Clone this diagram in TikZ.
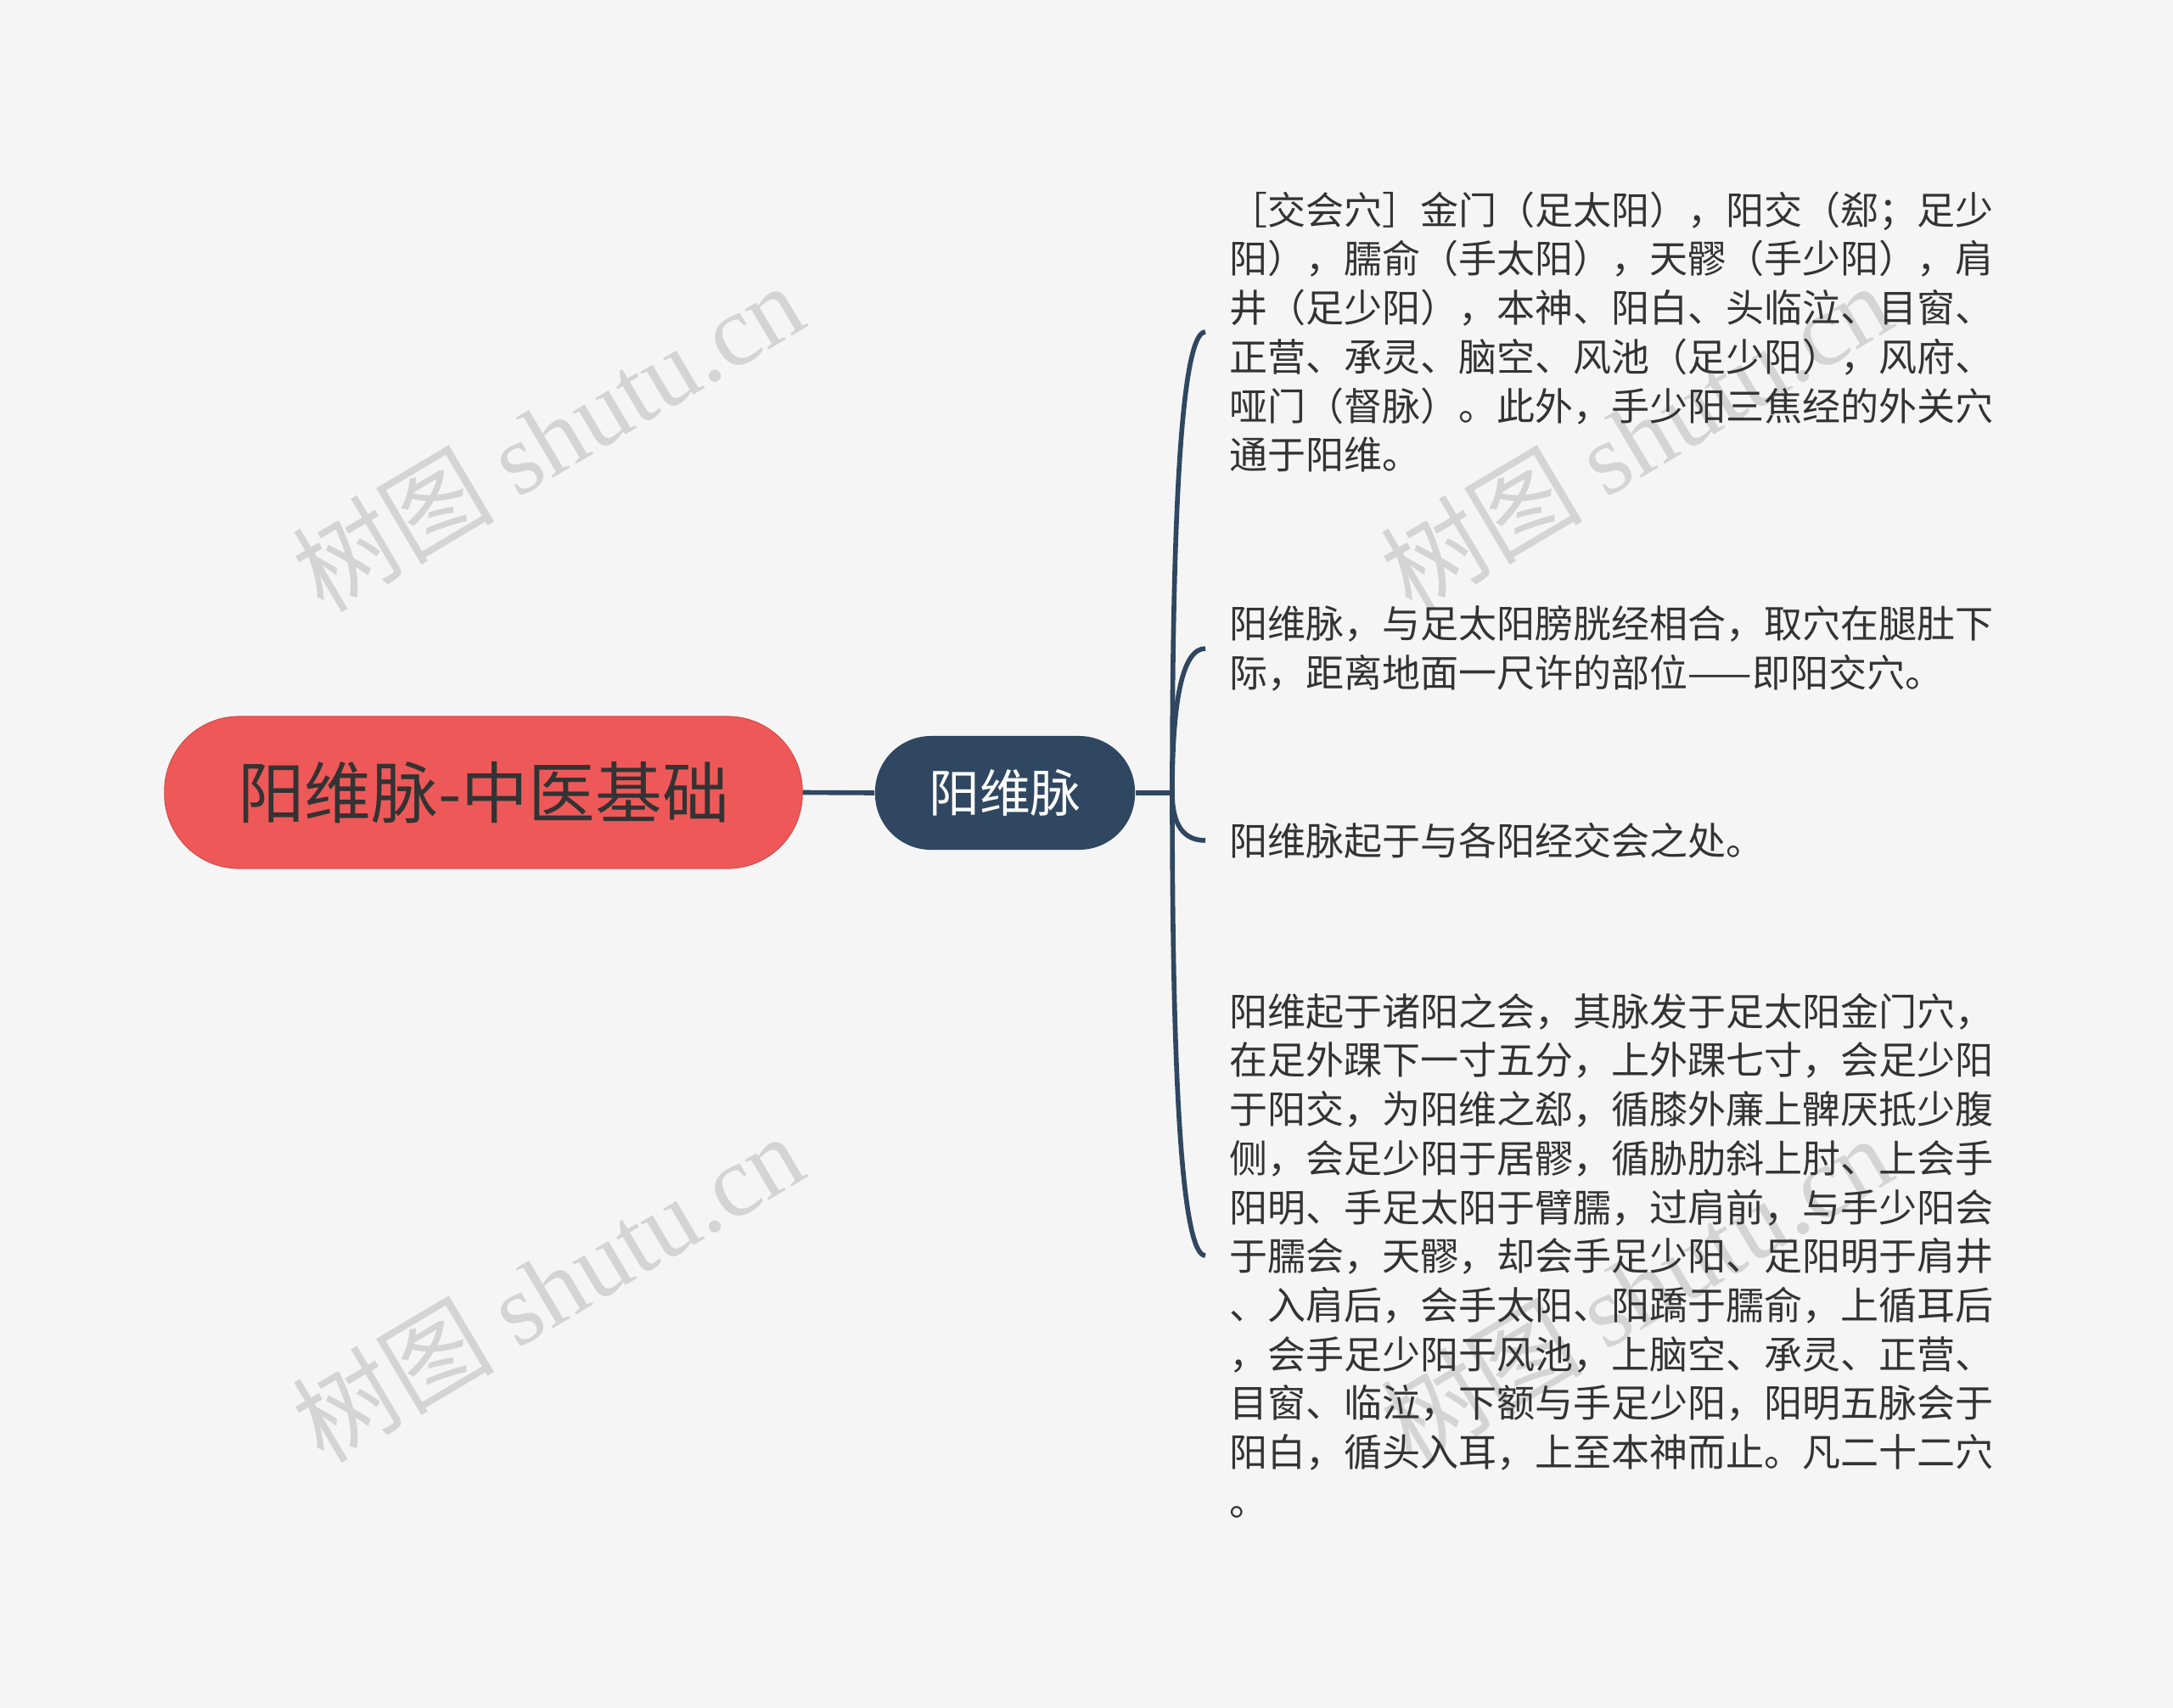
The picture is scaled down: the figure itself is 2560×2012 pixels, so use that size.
\documentclass[tikz,border=0pt]{standalone}
\usepackage{fontspec}
\setmainfont{Noto Sans CJK SC}
\newfontfamily\wmfont{Liberation Serif}
\usetikzlibrary{calc}
\definecolor{bgc}{HTML}{F5F5F5}
\definecolor{rootc}{HTML}{EF5858}
\definecolor{navy}{HTML}{2F4760}
\definecolor{txt}{HTML}{333333}
\definecolor{wm}{HTML}{D4D4D4}
\begin{document}
\begin{tikzpicture}[x=0.01cm,y=-0.01cm,
  rootnode/.style={fill=rootc, draw=rootc!88!black, line width=0.3pt, rounded corners=0.88cm,
    minimum width=7.51cm, minimum height=1.79cm, inner sep=0pt, text=txt,
    font=\fontsize{22.4pt}{26pt}\selectfont},
  branchnode/.style={fill=navy, rounded corners=0.66cm, minimum width=3.06cm, minimum height=1.34cm,
    inner sep=0pt, text=white, font=\fontsize{17pt}{20pt}\selectfont},
  leafnode/.style={anchor=west, inner xsep=0.28cm, inner ysep=0pt, align=left, text=txt,
    font=\fontsize{12.8pt}{16.42pt}\selectfont},
  link/.style={draw=navy, line width=1.6pt},
  wmark/.style={text=wm, rotate=30.7, inner sep=0pt, font=\fontsize{34pt}{40pt}\selectfont}
]
\fill[bgc] (0,0) rectangle (2560,2012);
\useasboundingbox (0,0) rectangle (2560,2012);

% watermarks
\node[wmark] (wma) at (645,514) {树图 {\wmfont shutu.cn}};
\node[wmark] (wmb) at (1927,514) {树图 {\wmfont shutu.cn}};
\node[wmark] (wmc) at (645,1516) {树图 {\wmfont shutu.cn}};
\node[wmark] (wmd) at (1927,1518) {树图 {\wmfont shutu.cn}};

% nodes
\node[rootnode] (root) at (569.5,933.5) {阳维脉-中医基础};
\node[branchnode] (branch) at (1184,934) {阳维脉};
\coordinate (hub) at (1381,934);

\node[leafnode] (leafa) at (1420,391) {［交会穴］金门（足太阳），阳交（郄；足少\\阳），臑俞（手太阳），天髎（手少阳），肩\\井（足少阳），本神、阳白、头临泣、目窗、\\正营、承灵、脑空、风池（足少阳），风府、\\哑门（督脉）。此外，手少阳三焦经的外关穴\\通于阳维。};
\node[leafnode] (leafb) at (1420,764) {阳维脉，与足太阳膀胱经相合，取穴在腿肚下\\际，距离地面一尺许的部位——即阳交穴。};
\node[leafnode] (leafc) at (1420,990) {阳维脉起于与各阳经交会之处。};
\node[leafnode] (leafd) at (1420,1479) {阳维起于诸阳之会，其脉发于足太阳金门穴，\\在足外踝下一寸五分，上外踝七寸，会足少阳\\于阳交，为阳维之郄，循膝外廉上髀厌抵少腹\\侧，会足少阳于居髎，循胁肋斜上肘、上会手\\阳明、手足太阳于臂臑，过肩前，与手少阳会\\于臑会，天髎，却会手足少阳、足阳明于肩井\\、入肩后，会手太阳、阳蹻于臑俞，上循耳后\\，会手足少阳于风池，上脑空、承灵、正营、\\目窗、临泣，下额与手足少阳，阳明五脉会于\\阳白，循头入耳，上至本神而止。凡二十二穴\\。};

% connectors
\draw[link] (root.east) -- (branch.west);
\draw[link] (branch.east) -- (hub);
\foreach \lf in {leafa,leafb,leafc,leafd}{
  \draw[link] (hub) .. controls ($(hub)!0.6667!(hub |- \lf.west)$) and ($(\lf.west)!0.6667!(hub |- \lf.west)$) .. (\lf.west);
}
\end{tikzpicture}
\end{document}
